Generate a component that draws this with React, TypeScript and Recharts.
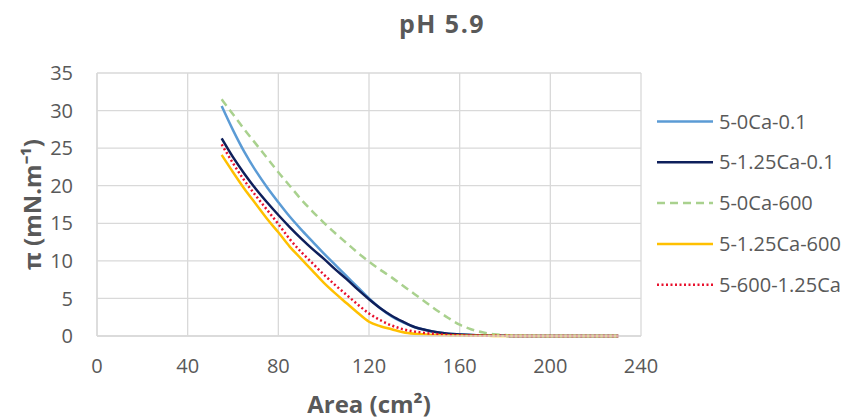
import React from "react";
import { LineChart, Line, XAxis, YAxis, CartesianGrid } from "recharts";

const xs = [55, 60, 65, 70, 75, 80, 85, 90, 95, 100, 105, 110, 115, 120, 125, 130, 135, 140, 145, 150, 155, 160, 165, 170, 175, 180, 190, 200, 210, 220, 230];

const ca0_01 = [30.6, 27.4, 24.5, 22.0, 19.8, 17.8, 15.9, 14.2, 12.6, 11.0, 9.5, 8.0, 6.5, 5.0, 3.7, 2.6, 1.8, 1.2, 0.8, 0.5, 0.3, 0.2, 0.12, 0.07, 0.04, 0.02, 0, 0, 0, 0, 0];
const ca125_01 = [26.3, 23.8, 21.6, 19.6, 17.8, 16.1, 14.5, 13.0, 11.6, 10.3, 8.9, 7.6, 6.2, 4.9, 3.7, 2.7, 1.9, 1.2, 0.8, 0.5, 0.3, 0.2, 0.12, 0.07, 0.04, 0.02, 0, 0, 0, 0, 0];
const ca0_600 = [31.5, 29.5, 27.5, 25.6, 23.7, 21.8, 20.0, 18.2, 16.6, 15.1, 13.7, 12.4, 11.1, 9.9, 8.8, 7.8, 6.7, 5.6, 4.5, 3.4, 2.4, 1.5, 0.9, 0.5, 0.25, 0.12, 0.03, 0, 0, 0, 0];
const ca125_600 = [24.1, 21.8, 19.6, 17.6, 15.6, 13.8, 11.9, 10.3, 8.7, 7.1, 5.7, 4.4, 3.1, 1.9, 1.3, 0.9, 0.5, 0.3, 0.2, 0.12, 0.08, 0.06, 0.04, 0.03, 0.01, 0, 0, 0, 0, 0, 0];
const s600_125 = [25.5, 23.0, 20.7, 18.7, 16.8, 14.9, 12.9, 11.2, 9.7, 8.2, 6.8, 5.5, 4.2, 3.0, 2.1, 1.4, 0.9, 0.6, 0.4, 0.25, 0.15, 0.1, 0.07, 0.05, 0.03, 0.02, 0, 0, 0, 0, 0];

const xTicks = [0, 40, 80, 120, 160, 200, 240];
const yTicks = [0, 5, 10, 15, 20, 25, 30, 35];

const seriesNames = ["5-0Ca-0.1", "5-1.25Ca-0.1", "5-0Ca-600", "5-1.25Ca-600", "5-600-1.25Ca"];
const seriesValues = [ca0_01, ca125_01, ca0_600, ca125_600, s600_125];
const seriesStyle = [
  { color: "#5B9BD5", dash: undefined as string | undefined },
  { color: "#0E1F5B", dash: undefined },
  { color: "#A9D18E", dash: "8 5" },
  { color: "#FFC000", dash: undefined },
  { color: "#E8112D", dash: "2 2.5" },
];

const toData = (vals: number[]) => xs.map((x, i) => ({ x, y: vals[i] }));

const FONT = "'Open Sans', sans-serif";
const TXT = "#595959";

export default function App() {
  return (
    <div style={{ position: "fixed", left: 0, top: 0, width: 859, height: 419, background: "#fff" }}>
      <LineChart width={859} height={419} margin={{ top: 73, right: 218, bottom: 53, left: 37 }}>
        <CartesianGrid stroke="#D9D9D9" strokeWidth={1.3} />
        <XAxis
          dataKey="x"
          type="number"
          domain={[0, 240]}
          ticks={xTicks}
          height={30}
          tickLine={false}
          axisLine={{ stroke: "#D9D9D9", strokeWidth: 1.3 }}
          tickSize={6}
          tickMargin={17}
          tick={{ fill: TXT, fontSize: 20, fontFamily: FONT }}
          allowDuplicatedCategory={false}
          label={{ value: "Area (cm²)", position: "insideBottom", offset: -47, fill: TXT, fontSize: 24, fontWeight: 700, fontFamily: FONT }}
        />
        <YAxis
          type="number"
          domain={[0, 35]}
          ticks={yTicks}
          tickLine={false}
          axisLine={{ stroke: "#D9D9D9", strokeWidth: 1.3 }}
          width={60}
          tickSize={6}
          tickMargin={18}
          tick={{ fill: TXT, fontSize: 20, fontFamily: FONT }}
          label={{ value: "π (mN.m⁻¹)", angle: -90, position: "insideLeft", offset: -5, style: { textAnchor: "middle" }, fill: TXT, fontSize: 24, fontWeight: 700, fontFamily: FONT }}
        />
        {seriesNames.map((n, i) => (
          <Line
            key={n}
            data={toData(seriesValues[i])}
            dataKey="y"
            name={n}
            type="monotone"
            stroke={seriesStyle[i].color}
            strokeWidth={2.5}
            strokeDasharray={seriesStyle[i].dash}
            dot={false}
            activeDot={false}
            isAnimationActive={false}
          />
        ))}
      </LineChart>
      <svg width={859} height={419} style={{ position: "absolute", left: 0, top: 0, pointerEvents: "none" }}>
        <text x={442} y={33} textAnchor="middle" fontFamily={FONT} fontSize={25} fontWeight={700} fill={TXT} letterSpacing={1.5}>
          pH 5.9
        </text>
        {seriesNames.map((n, i) => {
          const cy = 121.5 + i * 40.8;
          return (
            <g key={n}>
              <line x1={657} y1={cy} x2={713} y2={cy} stroke={seriesStyle[i].color} strokeWidth={2.5} strokeDasharray={seriesStyle[i].dash} />
              <text x={719} y={cy + 7} fontFamily={FONT} fontSize={20} fill={TXT}>
                {n}
              </text>
            </g>
          );
        })}
      </svg>
    </div>
  );
}
